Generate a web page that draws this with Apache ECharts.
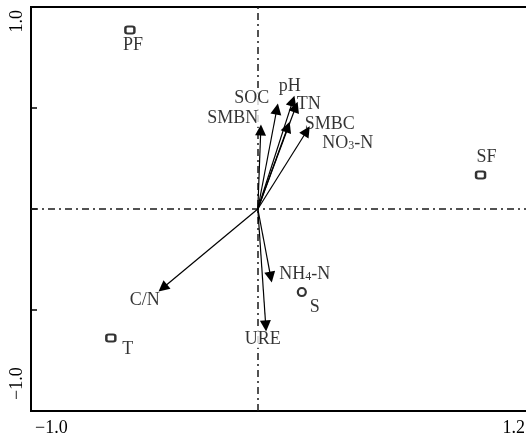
<!DOCTYPE html>
<html>
<head>
<meta charset="utf-8">
<script src="https://cdn.jsdelivr.net/npm/echarts@6/dist/echarts.min.js"></script>
<style>html,body{margin:0;padding:0;background:#fff}#c{width:526px;height:440px}</style>
</head>
<body>
<div id="c"></div>
<script>
// ---- data ----
const xTickValues = [-1.0, 1.2];
const xTickLabels = ['\u22121.0', '1.2'];
const yTickValues = [-1.0, 1.0];
const yTickLabels = ['\u22121.0', '1.0'];

const siteNames = ['PF', 'SF', 'T', 'S'];
const siteX = [-0.564, 0.982, -0.648, 0.194];
const siteY = [0.886, 0.168, -0.639, -0.411];

const varNames = ['SMBN', 'SOC', 'pH', 'TN', 'SMBC', 'NO3-N', 'NH4-N', 'URE', 'C/N'];
const varX = [0.013, 0.084, 0.154, 0.167, 0.216, 0.132, 0.057, 0.035, -0.419];
const varY = [0.391, 0.495, 0.535, 0.505, 0.386, 0.406, -0.337, -0.579, -0.391];

// ---- styling (label offsets in px) ----
const siteLabelOffset = [[3, 15], [6, -18], [17, 11], [13, 15]];
const siteSymbol = ['roundRect', 'roundRect', 'roundRect', 'circle'];
const siteSymbolSize = [[9, 7], [9, 7], [9, 7], [8, 8]];
const varLabelOffset = [[-28, -12], [-25, -11], [-3, -15], [13, -3], [23, -7], [60, 16], [34, -3], [-3, 13], [-18, 12]];

const FONT = 'Liberation Serif';
const FS = 18;
const TXT = '#000';

function richName(n) {
  return n.replace('NO3', 'NO{s|3}').replace('NH4', 'NH{s|4}');
}
const rich = { s: { fontFamily: FONT, fontSize: 12, lineHeight: 8, verticalAlign: 'bottom', color: TXT } };

const chart = echarts.init(document.getElementById('c'), null, { renderer: 'canvas' });

const arrowData = varNames.map((n, i) => ({ coords: [[0, 0], [varX[i], varY[i]]] }));
const varLabelData = varNames.map((n, i) => ({
  value: [varX[i], varY[i]], name: n,
  label: { offset: varLabelOffset[i] }
}));
const siteData = siteNames.map((n, i) => ({
  value: [siteX[i], siteY[i]], name: n,
  symbol: siteSymbol[i], symbolSize: siteSymbolSize[i],
  label: { offset: siteLabelOffset[i] }
}));

function near(a, b) { return Math.abs(a - b) < 1e-6; }

const option = {
  animation: false,
  backgroundColor: '#fff',
  grid: { left: 31, right: -4, top: 7, bottom: 29, show: true, borderColor: '#000', borderWidth: 2, containLabel: false, outerBoundsMode: 'none' },
  xAxis: {
    type: 'value', min: -1.0, max: 1.2, interval: 0.1,
    splitLine: { show: false }, axisLine: { show: false, onZero: false }, axisTick: { show: false },
    axisLabel: {
      margin: 8, fontFamily: FONT, fontSize: FS, color: TXT, hideOverlap: false,
      formatter: function (v) {
        for (let i = 0; i < xTickValues.length; i++) {
          if (near(v, xTickValues[i])) return i === 0 ? '{a|' + xTickLabels[i] + '}' : '{b|' + xTickLabels[i] + '}';
        }
        return '';
      },
      alignMinLabel: 'left', alignMaxLabel: 'right',
      rich: {
        a: { fontFamily: FONT, fontSize: FS, color: TXT, padding: [0, 0, 0, 4] },
        b: { fontFamily: FONT, fontSize: FS, color: TXT, padding: [0, 5, 0, 0] }
      }
    }
  },
  yAxis: {
    type: 'value', min: -1.0, max: 1.0, interval: 0.5,
    splitLine: { show: false }, axisLine: { show: false, onZero: false },
    axisTick: { show: true, inside: true, length: 6, lineStyle: { color: '#000', width: 1.5 } },
    axisLabel: {
      rotate: 90, margin: 5, fontFamily: FONT, fontSize: FS, color: TXT, hideOverlap: false,
      formatter: function (v) {
        for (let i = 0; i < yTickValues.length; i++) {
          if (near(v, yTickValues[i])) return i === 0 ? '{a|' + yTickLabels[i] + '}' : '{b|' + yTickLabels[i] + '}';
        }
        return '';
      },
      alignMinLabel: 'left', alignMaxLabel: 'right',
      rich: {
        a: { fontFamily: FONT, fontSize: FS, color: TXT, padding: [0, 0, 0, 11] },
        b: { fontFamily: FONT, fontSize: FS, color: TXT, padding: [0, 3, 0, 0] }
      }
    }
  },
  series: [
    {
      type: 'scatter', z: 1, silent: true, data: [],
      markLine: {
        silent: true, symbol: 'none', label: { show: false }, z: 1,
        lineStyle: { color: '#1a1a1a', width: 1.5, type: [7, 4, 2, 4] },
        data: [{ xAxis: 0 }, { yAxis: 0 }]
      }
    },
    {
      type: 'scatter', z: 3, silent: true,
      symbol: 'circle', symbolSize: 0, itemStyle: { color: 'rgba(0,0,0,0)' },
      label: {
        show: true, position: 'inside', fontFamily: FONT, fontSize: FS, color: TXT,
        backgroundColor: '#fff', padding: [0, 1, 0, 1],
        formatter: p => richName(p.name), rich: rich
      },
      data: varLabelData
    },
    {
      type: 'lines', coordinateSystem: 'cartesian2d', silent: true, z: 4,
      symbol: ['none', 'triangle'], symbolSize: [7, 11],
      lineStyle: { color: '#000', width: 1.2, opacity: 1, curveness: 0 },
      data: arrowData
    },
    {
      type: 'scatter', z: 5, silent: true,
      itemStyle: { color: '#fff', borderColor: '#000', borderWidth: 2.2 },
      label: {
        show: true, position: 'inside', fontFamily: FONT, fontSize: FS, color: TXT,
        formatter: p => p.name
      },
      data: siteData
    }
  ]
};
chart.setOption(option);
</script>
</body>
</html>
